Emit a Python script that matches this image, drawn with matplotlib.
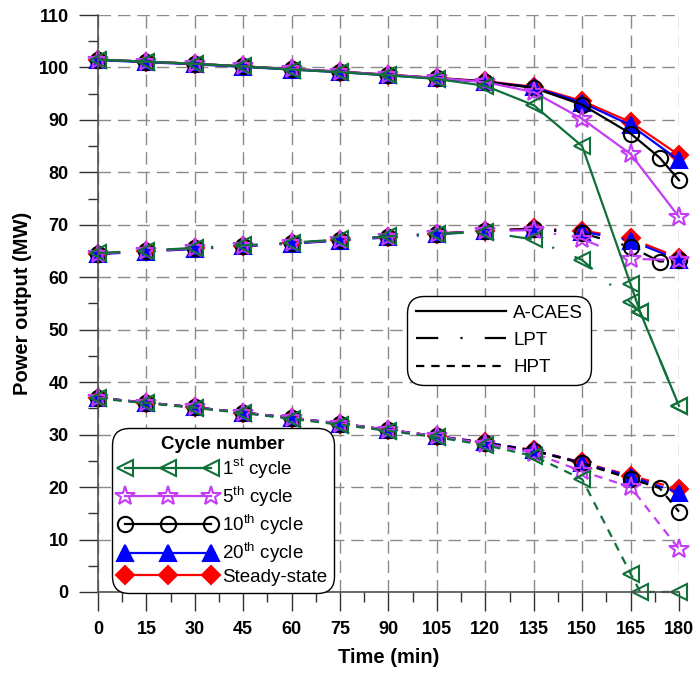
import numpy as np
import matplotlib
matplotlib.use("Agg")
import matplotlib.pyplot as plt
from matplotlib.lines import Line2D
from matplotlib.ticker import MultipleLocator

plt.rcParams['font.family'] = ['Liberation Sans', 'DejaVu Sans']
plt.rcParams['mathtext.fontset'] = 'custom'
plt.rcParams['mathtext.rm'] = 'Liberation Sans'
plt.rcParams['lines.scale_dashes'] = False

# time points (min)
t_std = [0, 15, 30, 45, 60, 75, 90, 105, 120, 135, 150, 165, 180]
t_1st = [0, 15, 30, 45, 60, 75, 90, 105, 120, 135, 150, 165, 168, 180]
t_10th = [0, 15, 30, 45, 60, 75, 90, 105, 120, 135, 150, 165, 174, 180]

# power output (MW)
acaes_ss = [101.5, 101.1, 100.7, 100.2, 99.7, 99.2, 98.6, 98.0, 97.4, 96.3, 93.6, 89.6, 83.3]
lpt_ss = [64.5, 65.0, 65.5, 66.0, 66.5, 67.1, 67.7, 68.3, 68.9, 69.3, 68.9, 67.4, 63.7]
hpt_ss = [37.0, 36.1, 35.2, 34.2, 33.2, 32.1, 30.9, 29.7, 28.5, 27.0, 24.7, 22.2, 19.6]

acaes_20 = [101.4, 101.0, 100.6, 100.1, 99.6, 99.1, 98.5, 97.9, 97.3, 96.2, 93.3, 89.0, 82.3]
lpt_20 = [64.4, 64.9, 65.4, 65.9, 66.4, 67.0, 67.6, 68.2, 68.8, 69.2, 68.7, 67.0, 63.3]
hpt_20 = [37.0, 36.1, 35.2, 34.2, 33.2, 32.1, 30.9, 29.7, 28.5, 27.0, 24.6, 22.0, 18.9]

acaes_10 = [101.5, 101.1, 100.7, 100.2, 99.7, 99.2, 98.6, 98.0, 97.3, 96.1, 92.9, 87.4, 82.8, 78.5]
lpt_10 = [64.5, 65.0, 65.5, 66.0, 66.5, 67.1, 67.7, 68.3, 68.9, 69.2, 68.4, 65.8, 63.0, 63.2]
hpt_10 = [37.0, 36.1, 35.2, 34.2, 33.2, 32.1, 30.9, 29.7, 28.4, 26.9, 24.5, 21.6, 19.8, 15.3]

acaes_5 = [101.5, 101.1, 100.7, 100.2, 99.7, 99.2, 98.6, 98.0, 97.2, 95.3, 90.2, 83.5, 71.5]
lpt_5 = [64.5, 65.0, 65.5, 66.0, 66.5, 67.1, 67.7, 68.3, 68.8, 69.0, 67.3, 63.5, 63.3]
hpt_5 = [37.0, 36.1, 35.2, 34.2, 33.2, 32.1, 30.9, 29.7, 28.3, 26.5, 23.0, 20.0, 8.2]

acaes_1 = [101.5, 101.1, 100.7, 100.2, 99.6, 99.1, 98.5, 97.8, 96.5, 92.8, 85.0, 58.7, 53.3, 35.5]
lpt_1 = [64.6, 65.1, 65.6, 66.1, 66.6, 67.2, 67.8, 68.3, 68.6, 67.2, 63.3, 55.2, 53.3, 35.5]
hpt_1 = [36.9, 36.0, 35.1, 34.1, 33.0, 31.9, 30.7, 29.5, 28.0, 25.9, 21.5, 3.5, 0.0, 0.0]

cycle_labels = [r'1$^{\mathrm{st}}$ cycle', r'5$^{\mathrm{th}}$ cycle', r'10$^{\mathrm{th}}$ cycle',
                r'20$^{\mathrm{th}}$ cycle', 'Steady-state']
part_labels = ['A-CAES', 'LPT', 'HPT']

GREEN = '#10703a'
VIOLET = '#c43cf5'

# drawn back to front: steady-state first, 1st cycle on top
series = [
    (t_std, acaes_ss, lpt_ss, hpt_ss, dict(color='red', marker='D', ms=9, mfc='red'), 4),
    (t_std, acaes_20, lpt_20, hpt_20, dict(color='blue', marker='^', ms=11, mfc='blue'), 3),
    (t_10th, acaes_10, lpt_10, hpt_10, dict(color='black', marker='o', ms=11, mfc='none'), 2),
    (t_std, acaes_5, lpt_5, hpt_5, dict(color=VIOLET, marker='*', ms=15, mfc='none'), 1),
    (t_1st, acaes_1, lpt_1, hpt_1, dict(color=GREEN, marker='<', ms=12, mfc='none'), 0),
]

LPT_DASH = (0, (16, 16, 1.5, 16))
HPT_DASH = (0, (6, 5))

fig = plt.figure(figsize=(6.93, 6.76), dpi=100)
ax = fig.add_axes([0.1414, 0.1243, 0.8384, 0.8535])

handles = [None] * 5
for t, a, l, h, style, idx in series:
    kw = dict(lw=1.6, mew=1.5, mec=style['color'], clip_on=False)
    line, = ax.plot(t, a, linestyle='-', **style, **kw)
    ax.plot(t, l, linestyle=LPT_DASH, **style, **kw)
    ax.plot(t, h, linestyle=HPT_DASH, **style, **kw)
    handles[idx] = line

ax.set_xlim(0, 180)
ax.set_ylim(0, 110)
ax.xaxis.set_major_locator(MultipleLocator(15))
ax.xaxis.set_minor_locator(MultipleLocator(7.5))
ax.yaxis.set_major_locator(MultipleLocator(10))
ax.yaxis.set_minor_locator(MultipleLocator(5))
ax.tick_params(which='major', direction='out', length=14, width=1, pad=7, colors='#303030')
ax.tick_params(which='minor', direction='out', length=7, width=1, colors='#303030')
for lab in ax.get_xticklabels() + ax.get_yticklabels():
    lab.set_fontsize(13)
    lab.set_fontweight('bold')
    lab.set_color('black')

ax.grid(True, which='major', color='#8a8a8a', linestyle=(0, (9, 5)), linewidth=1)
ax.set_axisbelow(True)
for side in ['top', 'right']:
    ax.spines[side].set_visible(False)
for side in ['left', 'bottom']:
    ax.spines[side].set_color('#505050')
    ax.spines[side].set_linewidth(1.2)

ax.set_xlabel('Time (min)', fontsize=14.5, fontweight='bold', labelpad=7)
ax.set_ylabel('Power output (MW)', fontsize=14.5, fontweight='bold', labelpad=5)

leg1 = ax.legend(handles, cycle_labels, title='Cycle number', loc='lower left',
                 bbox_to_anchor=(0.024, -0.002), borderaxespad=0, numpoints=3,
                 handlelength=5.2, handletextpad=0.25, labelspacing=0.18, fontsize=13.5,
                 frameon=True, fancybox=True, edgecolor='black', framealpha=1, borderpad=0.4)
leg1.get_title().set_fontweight('bold')
leg1.get_title().set_fontsize(13.5)
leg1.get_frame().set_boxstyle('round', pad=0, rounding_size=0.9)
leg1.get_frame().set_linewidth(1)
ax.add_artist(leg1)

part_handles = [Line2D([], [], color='black', lw=1.6, linestyle='-'),
                Line2D([], [], color='black', lw=1.6, linestyle=LPT_DASH),
                Line2D([], [], color='black', lw=1.6, linestyle=HPT_DASH)]
leg2 = ax.legend(part_handles, part_labels, loc='upper left', bbox_to_anchor=(0.532, 0.513),
                 borderaxespad=0, handlelength=4.8, handletextpad=0.4, labelspacing=0.55,
                 fontsize=13.5, borderpad=0.45, frameon=True, fancybox=True,
                 edgecolor='black', framealpha=1)
leg2.get_frame().set_boxstyle('round', pad=0, rounding_size=0.9)
leg2.get_frame().set_linewidth(1)

fig.savefig('out.png', dpi=100)
